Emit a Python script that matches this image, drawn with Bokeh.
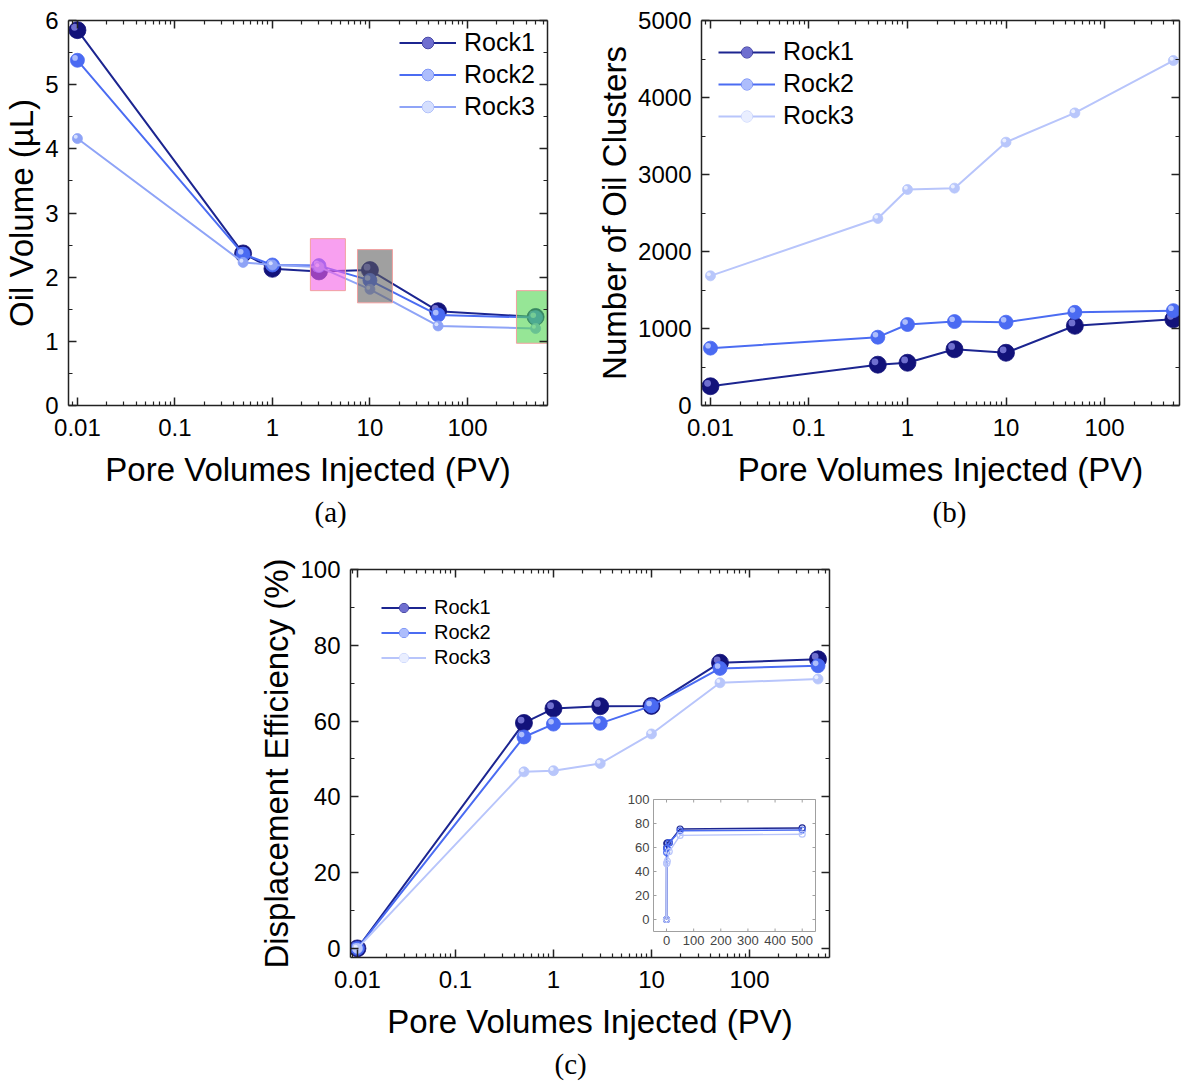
import math
from bokeh.plotting import figure
from bokeh.models import (Range1d, LogAxis, LinearAxis, FixedTicker, CustomJSTickFormatter,
                          Legend, LegendItem, Title, LinearScale, Spacer)
from bokeh.layouts import column, row
from bokeh.embed import file_html
from bokeh.resources import INLINE

# ---------------- data ----------------
pv = [0.01, 0.5, 1, 3, 10, 50, 500]

oil_rock1 = [5.85, 2.37, 2.13, 2.09, 2.11, 1.47, 1.38]
oil_rock2 = [5.38, 2.36, 2.19, 2.18, 1.95, 1.41, 1.37]
oil_rock3 = [4.16, 2.23, 2.19, 2.16, 1.81, 1.24, 1.20]

clusters_rock1 = [250, 530, 555, 730, 685, 1035, 1120]
clusters_rock2 = [745, 887, 1052, 1090, 1082, 1210, 1232]
clusters_rock3 = [1684, 2429, 2805, 2823, 3420, 3800, 4480]

eff_rock1 = [0, 59.5, 63.3, 63.9, 64.0, 75.4, 76.3]
eff_rock2 = [0, 55.8, 59.2, 59.4, 64.0, 73.9, 74.6]
eff_rock3 = [0, 46.6, 46.9, 48.8, 56.6, 70.1, 71.1]

# highlighted regions in panel (a)
box_left = [2.45, 7.45, 318]
box_right = [5.6, 17.0, 725]
box_bottom = [1.79, 1.60, 0.97]
box_top = [2.60, 2.43, 1.79]
box_colors = ["#f361e6", "#616161", "#50d550"]

series_names = ["Rock1", "Rock2", "Rock3"]

log_major = [0.01, 0.1, 1, 10, 100]
log_minor = [0.009, 0.02, 0.03, 0.04, 0.05, 0.06, 0.07, 0.08, 0.09,
             0.2, 0.3, 0.4, 0.5, 0.6, 0.7, 0.8, 0.9,
             2, 3, 4, 5, 6, 7, 8, 9,
             20, 30, 40, 50, 60, 70, 80, 90,
             200, 300, 400, 500, 600]

oil_ticks = [0, 1, 2, 3, 4, 5, 6]
oil_minor = [0.5, 1.5, 2.5, 3.5, 4.5, 5.5]
cl_ticks = [0, 1000, 2000, 3000, 4000, 5000]
cl_minor = [500, 1500, 2500, 3500, 4500]
eff_ticks = [0, 20, 40, 60, 80, 100]
eff_minor = [10, 30, 50, 70, 90]

inset_xticks = [0, 100, 200, 300, 400, 500]
inset_yticks = [0, 20, 40, 60, 80, 100]

# ---------------- styles ----------------
FONT = "Liberation Sans"
SERIF = "Liberation Serif"
AX = "#222222"

C1, H1 = "#12127a", "#7a7ad8"
C2, H2 = "#4a6af2", "#b8c6fd"
C3A, H3A = "#8ea3f6", "#dde5ff"
C3B, H3B = "#b8c6fb", "#eef2ff"
L1, L2, L3A, L3B = "#1c2590", "#4b6cf2", "#8fa4f7", "#b8c5fb"


def style_axis(ax, labels=True, fs="24px"):
    ax.axis_line_color = AX
    ax.axis_line_width = 1.5
    ax.major_tick_line_color = AX
    ax.major_tick_line_width = 1.5
    ax.minor_tick_line_color = AX
    ax.minor_tick_line_width = 1.2
    ax.major_tick_in = 8
    ax.major_tick_out = 0
    ax.minor_tick_in = 4
    ax.minor_tick_out = 0
    if labels:
        ax.major_label_text_font = FONT
        ax.major_label_text_font_size = fs
        ax.major_label_text_color = "black"
        ax.axis_label_text_font = FONT
        ax.axis_label_text_font_size = "33px"
        ax.axis_label_text_font_style = "normal"
        ax.axis_label_text_color = "black"
    else:
        ax.major_label_text_font_size = "0px"
        ax.major_label_standoff = 0
        ax.axis_label = None


def make_fig(yr, yticks, yminor, xr, fw, fh, bl, br, bt, bb, xlabel, ylabel):
    p = figure(x_axis_type="log", x_range=Range1d(*xr), y_range=Range1d(*yr),
               frame_width=fw, frame_height=fh,
               min_border_left=bl, min_border_right=br, min_border_top=bt, min_border_bottom=bb,
               output_backend="svg", toolbar_location=None, title=None)
    p.xgrid.visible = False
    p.ygrid.visible = False
    p.outline_line_color = None
    p.background_fill_color = "white"
    p.border_fill_color = "white"

    xa = p.xaxis[0]
    xa.ticker = FixedTicker(ticks=log_major, minor_ticks=log_minor)
    xa.formatter = CustomJSTickFormatter(code="return tick.toString();")
    xa.axis_label = xlabel
    style_axis(xa)
    xa.major_label_standoff = 13
    xa.axis_label_standoff = 12

    ya = p.yaxis[0]
    ya.ticker = FixedTicker(ticks=yticks, minor_ticks=yminor)
    ya.axis_label = ylabel
    style_axis(ya)
    ya.major_label_standoff = 10
    ya.axis_label_standoff = 2

    top = LogAxis(ticker=FixedTicker(ticks=log_major, minor_ticks=log_minor),
                  formatter=CustomJSTickFormatter(code="return '';"))
    style_axis(top, labels=False)
    p.add_layout(top, "above")
    right = LinearAxis(ticker=FixedTicker(ticks=yticks, minor_ticks=yminor),
                       formatter=CustomJSTickFormatter(code="return '';"))
    style_axis(right, labels=False)
    p.add_layout(right, "right")

    # pixel scale of the frame, used to place the sphere highlight a few px up-left
    p._ppd = fw / (math.log10(xr[1]) - math.log10(xr[0]))
    p._ppy = fh / (yr[1] - yr[0])
    return p


def series(p, x, y, lc, c, h, size, lw=2.0):
    ln = p.line(x, y, line_color=lc, line_width=lw)
    mk = p.scatter(x, y, size=size, fill_color=c, line_color=c, line_width=0.8)
    d = 0.17 * size
    hx = [xi * 10 ** (-d / p._ppd) for xi in x]
    hy = [yi + d / p._ppy for yi in y]
    hl = p.scatter(hx, hy, size=size * 0.4, fill_color=h, line_color=None, fill_alpha=0.9)
    return [ln, mk, hl]


def add_legend(p, items, loc, fs, gw, gh, padding, spacing):
    lg = Legend(items=[LegendItem(label=n, renderers=r) for n, r in items],
                location=loc, border_line_color=None, background_fill_alpha=0,
                label_text_font=FONT, label_text_font_size=fs, label_text_color="black",
                glyph_width=gw, glyph_height=gh, label_height=gh, margin=0,
                padding=padding, spacing=spacing, label_standoff=8)
    p.add_layout(lg)


def caption(p, text, offset):
    t = Title(text=text, align="left", offset=offset, text_font=SERIF,
              text_font_size="29px", text_font_style="normal", text_color="black",
              standoff=6)
    p.add_layout(t, "below")


# ---------------- panel (a) ----------------
pa = make_fig((0, 6), oil_ticks, oil_minor, (0.0081, 662), 479, 385, 68, 30, 20, 143,
              "Pore Volumes Injected (PV)", "Oil Volume (µL)")
ra1 = series(pa, pv, oil_rock1, L1, C1, H1, 17)
ra2 = series(pa, pv, oil_rock2, L2, C2, H2, 14)
ra3 = series(pa, pv, oil_rock3, L3A, C3A, H3A, 10)
pa.quad(left=box_left, right=box_right, bottom=box_bottom, top=box_top,
        fill_color=box_colors, fill_alpha=0.6, line_color="#f2a0a0", line_width=1)
add_legend(pa, zip(series_names, [ra1, ra2, ra3]), (331, 284), "25px", 57, 29, 4, 3)
caption(pa, "(a)", 246)

# ---------------- panel (b) ----------------
pb = make_fig((0, 5000), cl_ticks, cl_minor, (0.00811, 577), 478, 385, 124, 2, 20, 143,
              "Pore Volumes Injected (PV)", "Number of Oil Clusters")
rb1 = series(pb, pv, clusters_rock1, L1, C1, H1, 17)
rb2 = series(pb, pv, clusters_rock2, L2, C2, H2, 14)
rb3 = series(pb, pv, clusters_rock3, L3B, C3B, H3B, 10)
add_legend(pb, zip(series_names, [rb1, rb2, rb3]), (17, 275), "25px", 57, 28, 4, 3)
caption(pb, "(b)", 231)

# ---------------- panel (c) ----------------
FW_C, FH_C = 479, 388
pc = make_fig((-2.4, 100), eff_ticks, eff_minor, (0.0085, 655), FW_C, FH_C, 102, 31, 21, 130,
              "Pore Volumes Injected (PV)", "Displacement Efficiency (%)")
rc1 = series(pc, pv, eff_rock1, L1, C1, H1, 17)
rc2 = series(pc, pv, eff_rock2, L2, C2, H2, 14)
rc3 = series(pc, pv, eff_rock3, L3B, C3B, H3B, 10)
add_legend(pc, zip(series_names, [rc1, rc2, rc3]), (31, 288), "20px", 45, 23, 3, 2)
caption(pc, "(c)", 204)

# inset: a linear coordinate system placed over a sub-rectangle of panel (c)'s frame
ix0, ix1, iy0, iy1 = -48, 549, -10, 100          # inset data window
sl, sr, st, sb = 303, 465, 230, 362               # inset frame, px from frame top-left
ux = (ix1 - ix0) / (sr - sl)
uy = (iy1 - iy0) / (sb - st)
pc.extra_x_ranges = {"inx": Range1d(ix0 - sl * ux, ix1 + (FW_C - sr) * ux)}
pc.extra_y_ranges = {"iny": Range1d(iy0 - (FH_C - sb) * uy, iy1 + st * uy)}
pc.extra_x_scales = {"inx": LinearScale()}
pc.extra_y_scales = {"iny": LinearScale()}
kw = dict(x_range_name="inx", y_range_name="iny")
pc.quad(left=[ix0], right=[ix1], bottom=[iy0], top=[iy1], fill_color="white",
        line_color="#a0a0a0", line_width=1, **kw)
tx = 3 * ux
ty = 3 * uy
pc.segment(x0=inset_xticks, y0=[iy0] * 6, x1=inset_xticks, y1=[iy0 + ty] * 6,
           line_color="#a0a0a0", line_width=1, **kw)
pc.segment(x0=inset_xticks, y0=[iy1] * 6, x1=inset_xticks, y1=[iy1 - ty] * 6,
           line_color="#a0a0a0", line_width=1, **kw)
pc.segment(x0=[ix0] * 6, y0=inset_yticks, x1=[ix0 + tx] * 6, y1=inset_yticks,
           line_color="#a0a0a0", line_width=1, **kw)
pc.segment(x0=[ix1] * 6, y0=inset_yticks, x1=[ix1 - tx] * 6, y1=inset_yticks,
           line_color="#a0a0a0", line_width=1, **kw)
pc.text(x=[ix0] * 6, y=inset_yticks, text=[str(v) for v in inset_yticks], x_offset=-4,
        text_align="right", text_baseline="middle", text_font_size="13px",
        text_color="#444444", text_font={"value": FONT}, **kw)
pc.text(x=inset_xticks, y=[iy0] * 6, text=[str(v) for v in inset_xticks], y_offset=4,
        text_align="center", text_baseline="top", text_font_size="13px",
        text_color="#444444", text_font={"value": FONT}, **kw)
for yy, cc, ww in [(eff_rock1, L1, 1.6), (eff_rock2, L2, 1.6), (eff_rock3, L3B, 1.4)]:
    pc.line(pv, yy, line_color=cc, line_width=ww, **kw)
    pc.scatter(pv, yy, size=6, fill_color=None, line_color=cc, line_width=1.2, **kw)

layout = column(row(pa, pb), row(Spacer(width=248, height=10), pc))

open("out.html", "w").write(file_html(layout, INLINE))
